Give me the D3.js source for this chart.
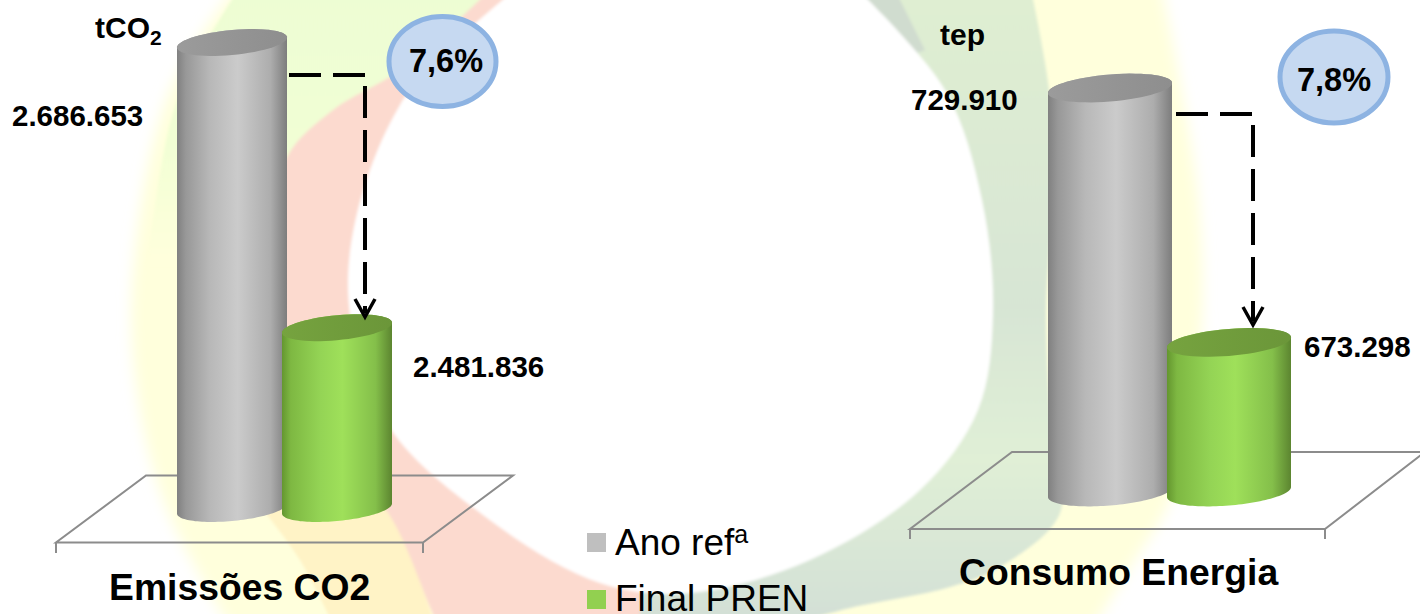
<!DOCTYPE html>
<html><head><meta charset="utf-8">
<script src="https://cdnjs.cloudflare.com/ajax/libs/d3/7.8.5/d3.min.js"></script>
<style>html,body{margin:0;padding:0;background:#fff;overflow:hidden}svg{display:block}
text{font-family:"Liberation Sans",Arial,sans-serif;fill:#000}</style>
</head><body><svg id="c" width="1420" height="614"></svg>
<script>
// ---- data ----
const seriesNames = ["Ano ref", "Final PREN"];
const chartTitles = ["Emissões CO2", "Consumo Energia"];
const emissionsValues = [2686653, 2481836];
const energyValues = [729910, 673298];
const reductionLabels = ["7,6%", "7,8%"];

const svg = d3.select("#c");
const defs = svg.append("defs");
function grad(id, stops, attrs) {
  const g = defs.append("linearGradient").attr("id", id);
  Object.entries(attrs || {x1:0,x2:1,y1:0,y2:0}).forEach(([k,v]) => g.attr(k,v));
  stops.forEach(([o,c]) => g.append("stop").attr("offset", o).attr("stop-color", c));
}
grad("gGrey", [[0,"#808080"],[.08,"#989898"],[.3,"#b8b8b8"],[.55,"#cbcbcb"],[.85,"#adadad"],[1,"#7d7d7d"]]);
grad("gGreen", [[0,"#64962f"],[.08,"#7eb842"],[.35,"#94d455"],[.55,"#9fe05a"],[.85,"#84bf4a"],[1,"#5c8530"]]);
grad("gGreyTop", [[0,"#9b9b9b"],[1,"#8e8e8e"]]);
grad("gGreenTop", [[0,"#76a33f"],[1,"#6b9639"]]);
grad("gTopTint", [[0,"#edfdd3"],[.55,"#f1fed4"],[1,"#ffffdc"]], {gradientUnits:"userSpaceOnUse",x1:0,x2:0,y1:0,y2:260});
grad("gGreenBand", [[0,"#dfeed2"],[.5,"#d7e5d4"],[.75,"#e0efd6"],[1,"#d3e0d6"]], {gradientUnits:"userSpaceOnUse",x1:0,x2:0,y1:0,y2:614});
defs.append("filter").attr("id","soft").attr("x","-5%").attr("y","-5%").attr("width","110%").attr("height","110%")
  .append("feGaussianBlur").attr("stdDeviation",1.6);
defs.append("filter").attr("id","softer").attr("x","-5%").attr("y","-5%").attr("width","110%").attr("height","110%")
  .append("feGaussianBlur").attr("stdDeviation",7);

// ---- decorative swirl behind the charts ----
const smooth = d3.line().curve(d3.curveCatmullRom.alpha(.5));
const yellowLeftEdge = [[240,-20],[167,98],[133,275],[137,392],[167,510],[238,640]];
const yellowRightEdge = [[1085,640],[1133,563],[1170,500],[1200,350],[1198,196],[1160,-20]];
const redEdge = [[490,-10],[400,70],[333,110],[287,157],[268,250],[290,350],[340,450],[393,521],[433,614],[450,650]];
const greenEdge = [[1029,-20],[1050,98],[1052,200],[1046,314],[1052,440],[1060,513],[1000,567],[950,587],[850,608],[770,630]];
const whiteEdge = [[515,-10],[400,105],[348,280],[385,420],[483,515],[600,583],[690,593],[810,560],[920,490],[978,410],[993,314],[982,200],[945,90],[848,-20]];

const bg = svg.append("g");
bg.append("path").attr("fill","#ffffdc").attr("filter","url(#softer)")
  .attr("d", smooth(yellowLeftEdge) + "L" + smooth(yellowRightEdge).slice(1) + "Z");
const bgs = bg.append("g").attr("filter","url(#soft)");
bgs.append("path").attr("fill","url(#gTopTint)")
  .attr("d", smooth([[245,-20],[178,98],[150,240],[145,270]]) + "L500,270L500,-20Z");
bgs.append("path").attr("fill","#fff3c6")
  .attr("d", smooth([[255,500],[300,560],[340,640]]) + "L440,640L393,500Z");
bgs.append("path").attr("fill","#fcdacf")
  .attr("d", smooth(redEdge) + "L720,650L720,300L520,0Z");
bgs.append("path").attr("fill","url(#gGreenBand)")
  .attr("d", smooth(greenEdge) + "L640,630L640,300L800,-20Z");
bgs.append("path").attr("fill","#d0dccf")
  .attr("d", smooth([[848,-20],[890,-20]]) + "L925,50L900,60Z");
bgs.append("path").attr("fill","#fff").attr("d", smooth(whiteEdge) + "Z");

// ---- charts ----
const fmt = d3.formatLocale({decimal:",",thousands:".",grouping:[3],currency:["",""]}).format(",d");

const charts = [
  { values: emissionsValues, title: chartTitles[0], domain:[2352000,2686653], range:[508.5,42.5],
    centres:[232,337], rx:55, ry:12.5, tilt:5,
    floor:[[146,475.5],[513,475.5],[423,542.5],[56,542.5]], tickB:553,
    unit:{x:95,y:38,text:"tCO",sub:"2"},
    titleX:109, titleY:600,
    labels:[{x:12,y:126},{x:413,y:377}],
    bubble:{cx:442.5,cy:61.5,rx:53.5,ry:45,tx:446,ty:72,text:reductionLabels[0]},
    arrow:{x0:289,y0:75,x1:365,y1:317} },
  { values: energyValues, title: chartTitles[1], domain:[640000,729910], range:[492,88],
    centres:[1110,1229], rx:62, ry:13.5, tilt:5,
    floor:[[1012,452],[1425,452],[1325,529],[910,529]], tickB:539,
    unit:{x:940,y:45,text:"tep"},
    titleX:959, titleY:585,
    labels:[{x:911,y:110},{x:1304,y:357}],
    bubble:{cx:1334,cy:77,rx:54,ry:46,tx:1334,ty:91,text:reductionLabels[1]},
    arrow:{x0:1176,y0:114,x1:1253,y1:325} }
];

const floorLine = d3.line();
function ellipsePts(cx, cy, rx, ry, tilt, a0, a1) {
  return d3.range(0, 61).map(i => {
    const t = a0 + (a1 - a0) * i / 60;
    return [cx + rx * Math.cos(t), cy + ry * Math.sin(t) - tilt * Math.cos(t)];
  });
}

charts.forEach(ch => {
  const g = svg.append("g");
  const y = d3.scaleLinear().domain(ch.domain).range(ch.range);
  const x = d3.scalePoint().domain(seriesNames).range(ch.centres);
  const base = ch.domain[0];

  // floor
  g.append("path").attr("d", floorLine(ch.floor) + "Z").attr("fill","none").attr("stroke","#8c8c8c").attr("stroke-width",2);
  [ch.floor[3], ch.floor[2]].forEach(p => g.append("line")
    .attr("x1",p[0]).attr("x2",p[0]).attr("y1",p[1]).attr("y2",ch.tickB)
    .attr("stroke","#8c8c8c").attr("stroke-width",2));

  // cylinders
  seriesNames.forEach((s, i) => {
    const v = ch.values[i], cx = x(s), yT = y(v), yB = y(base);
    const bottom = ellipsePts(cx, yB, ch.rx, ch.ry, ch.tilt, 0, Math.PI);
    const top = ellipsePts(cx, yT, ch.rx, ch.ry, ch.tilt, Math.PI, 2 * Math.PI);
    g.append("path").attr("d", d3.line()(bottom.concat(top)) + "Z")
      .attr("fill", i ? "url(#gGreen)" : "url(#gGrey)");
    g.append("path").attr("d", d3.line()(ellipsePts(cx, yT, ch.rx, ch.ry, ch.tilt, 0, 2 * Math.PI)) + "Z")
      .attr("fill", i ? "url(#gGreenTop)" : "url(#gGreyTop)");
    g.append("text").attr("x", ch.labels[i].x).attr("y", ch.labels[i].y)
      .attr("font-size", 29.5).attr("font-weight","bold").text(fmt(v));
  });

  // unit
  const u = g.append("text").attr("x", ch.unit.x).attr("y", ch.unit.y).attr("font-size",30).attr("font-weight","bold").text(ch.unit.text);
  if (ch.unit.sub) u.append("tspan").attr("dy",7).attr("font-size",21).text(ch.unit.sub);

  // title
  g.append("text").attr("x", ch.titleX).attr("y", ch.titleY).attr("font-size",37.3).attr("font-weight","bold").text(ch.title);

  // bubble
  const b = ch.bubble;
  g.append("ellipse").attr("cx",b.cx).attr("cy",b.cy).attr("rx",b.rx).attr("ry",b.ry)
    .attr("fill","#c6d9f1").attr("stroke","#8db3e2").attr("stroke-width",5);
  g.append("text").attr("x",b.tx).attr("y",b.ty).attr("text-anchor","middle")
    .attr("font-size",32.5).attr("font-weight","bold").text(b.text);

  // dashed reduction arrow
  const a = ch.arrow;
  const dash = g.append("g").attr("fill","none").attr("stroke","#000").attr("stroke-width",4);
  dash.append("path").attr("d",`M${a.x0},${a.y0}H${a.x1}`).attr("stroke-dasharray","32 12");
  dash.append("path").attr("d",`M${a.x1},${a.y0+11}V${a.y1-4}`).attr("stroke-dasharray","32 12");
  dash.append("path").attr("d",`M${a.x1-10},${a.y1-18}L${a.x1},${a.y1}L${a.x1+10},${a.y1-18}`).attr("stroke-width",3.5);
});

// ---- legend ----
const legendColours = ["#bfbfbf", "#92d050"];
const legendY = d3.scalePoint().domain(seriesNames).range([543, 600]);
const lg = svg.append("g");
seriesNames.forEach((s, i) => {
  lg.append("rect").attr("x",587).attr("y",legendY(s)-10).attr("width",19).attr("height",19).attr("fill",legendColours[i]);
  const t = lg.append("text").attr("x",615).attr("y",legendY(s)+ (i?11:12)).attr("font-size",37).text(s);
  if (i === 0) t.append("tspan").attr("dy",-12).attr("font-size",25).text("a");
});
</script></body></html>
